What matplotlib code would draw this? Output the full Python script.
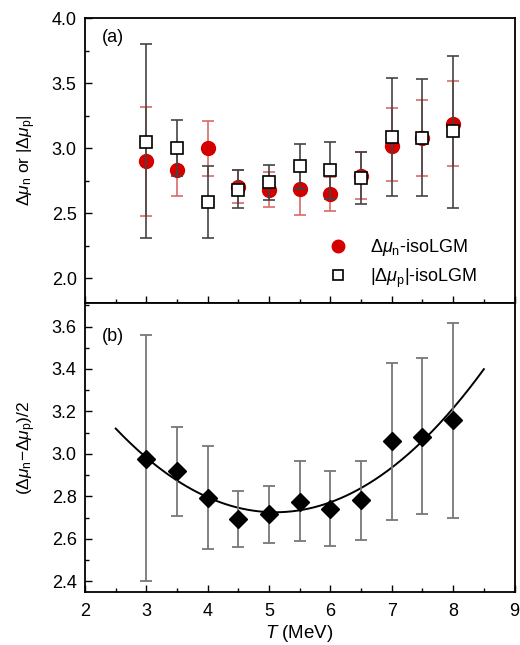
"""Isospin chemical-potential difference vs temperature (isoLGM)."""

import matplotlib

matplotlib.use("Agg")

import matplotlib.pyplot as plt
import numpy as np
from matplotlib.lines import Line2D
from matplotlib.ticker import MultipleLocator

# temperatures (MeV)
temps = [3.0, 3.5, 4.0, 4.5, 5.0, 5.5, 6.0, 6.5, 7.0, 7.5, 8.0]

# panel (a): neutron
dmu_n = [2.90, 2.83, 3.00, 2.70, 2.68, 2.69, 2.65, 2.79, 3.02, 3.08, 3.19]
dmu_n_hi = [3.32, 3.03, 3.21, 2.83, 2.82, 2.89, 2.78, 2.97, 3.31, 3.37, 3.52]
dmu_n_lo = [2.48, 2.63, 2.79, 2.58, 2.55, 2.49, 2.52, 2.61, 2.75, 2.79, 2.86]

# panel (a): proton (absolute value)
dmu_p = [3.05, 3.00, 2.59, 2.68, 2.74, 2.86, 2.83, 2.77, 3.09, 3.08, 3.13]
dmu_p_hi = [3.80, 3.22, 2.86, 2.83, 2.87, 3.03, 3.05, 2.97, 3.54, 3.53, 3.71]
dmu_p_lo = [2.31, 2.79, 2.31, 2.54, 2.60, 2.69, 2.61, 2.57, 2.63, 2.63, 2.54]

# panel (b): (dmu_n - dmu_p) / 2
half_diff = [2.977, 2.918, 2.794, 2.693, 2.715, 2.776, 2.742, 2.781, 3.059, 3.082, 3.158]
half_diff_hi = [3.562, 3.126, 3.037, 2.824, 2.847, 2.965, 2.922, 2.965, 3.427, 3.451, 3.617]
half_diff_lo = [2.400, 2.707, 2.551, 2.561, 2.582, 2.588, 2.565, 2.596, 2.687, 2.715, 2.698]

# quadratic fit to panel (b)
fit_coeffs = [0.0583, -0.5947, 4.242]
fit_range = [2.5, 8.5]

N_LABEL = r"$\Delta\mathit{\mu}_\mathrm{n}$-isoLGM"
P_LABEL = r"$|\Delta\mathit{\mu}_\mathrm{p}|$-isoLGM"

plt.rcParams["font.family"] = ["Liberation Sans", "DejaVu Sans"]
plt.rcParams["mathtext.fontset"] = "custom"
plt.rcParams["mathtext.rm"] = "Liberation Sans"
plt.rcParams["mathtext.it"] = "Liberation Sans:italic"
plt.rcParams["mathtext.default"] = "regular"


def _errs(center, hi, lo):
    c = np.asarray(center)
    return [c - np.asarray(lo), np.asarray(hi) - c]


def _style_axis(axis):
    for spine in axis.spines.values():
        spine.set_linewidth(1.3)
    axis.xaxis.set_major_locator(MultipleLocator(1))
    axis.xaxis.set_minor_locator(MultipleLocator(0.5))
    axis.tick_params(which="both", direction="in", top=False, right=False,
                     labelsize=13, width=1.0)
    axis.tick_params(which="major", length=5)
    axis.tick_params(which="minor", length=3)
    axis.tick_params(axis="y", pad=6)
    axis.tick_params(axis="x", pad=8)


fig = plt.figure(figsize=(5.20, 6.45), dpi=100)
ax_a = fig.add_axes([0.1635, 0.530, 0.826, 0.442])
ax_b = fig.add_axes([0.1635, 0.0822, 0.826, 0.4478], sharex=ax_a)

# panel (a)
ax_a.errorbar(temps, dmu_n, yerr=_errs(dmu_n, dmu_n_hi, dmu_n_lo), fmt="o",
              color="#d40000", ms=10, ecolor="#d86a6a", elinewidth=1.2,
              capsize=4, capthick=1.2, zorder=3)
ax_a.errorbar(temps, dmu_p, yerr=_errs(dmu_p, dmu_p_hi, dmu_p_lo), fmt="s",
              mfc="white", mec="black", mew=1.2, ms=9, ecolor="#444444",
              elinewidth=1.2, capsize=4, capthick=1.2, zorder=4)
ax_a.set_xlim(2, 9)
ax_a.set_ylim(1.81, 4.0)
ax_a.yaxis.set_major_locator(MultipleLocator(0.5))
ax_a.yaxis.set_minor_locator(MultipleLocator(0.25))
_style_axis(ax_a)
ax_a.tick_params(labelbottom=False)
ax_a.set_ylabel(r"$\Delta\mathit{\mu}_\mathrm{n}$ or $|\Delta\mathit{\mu}_\mathrm{p}|$",
                fontsize=12.5, labelpad=10)
ax_a.text(0.04, 0.915, "(a)", transform=ax_a.transAxes, fontsize=13)

handles = [
    Line2D([], [], ls="none", marker="o", color="#d40000", ms=9),
    Line2D([], [], ls="none", marker="s", mfc="white", mec="black", mew=1.2, ms=7),
]
ax_a.legend(handles, [N_LABEL, P_LABEL], loc="lower right",
            bbox_to_anchor=(0.95, -0.01), frameon=False, fontsize=13,
            handletextpad=1.0, labelspacing=0.45, handlelength=1.5)

# panel (b)
ax_b.errorbar(temps, half_diff, yerr=_errs(half_diff, half_diff_hi, half_diff_lo),
              fmt="D", color="black", ms=9, ecolor="#777777", elinewidth=1.3,
              capsize=4, capthick=1.3, zorder=3)
fit_x = np.linspace(fit_range[0], fit_range[1], 200)
ax_b.plot(fit_x, np.polyval(fit_coeffs, fit_x), color="black", lw=1.4, zorder=2)
ax_b.set_ylim(2.35, 3.71)
ax_b.yaxis.set_major_locator(MultipleLocator(0.2))
ax_b.yaxis.set_minor_locator(MultipleLocator(0.1))
_style_axis(ax_b)
ax_b.set_ylabel(r"$(\Delta\mathit{\mu}_\mathrm{n}$$-$$\Delta\mathit{\mu}_\mathrm{p})/2$",
                fontsize=12.5, labelpad=10)
ax_b.set_xlabel(r"$\mathit{T}$ (MeV)", fontsize=13.5, labelpad=2)
ax_b.text(0.04, 0.87, "(b)", transform=ax_b.transAxes, fontsize=13)

fig.savefig("out.png", dpi=100)
plt.close(fig)
